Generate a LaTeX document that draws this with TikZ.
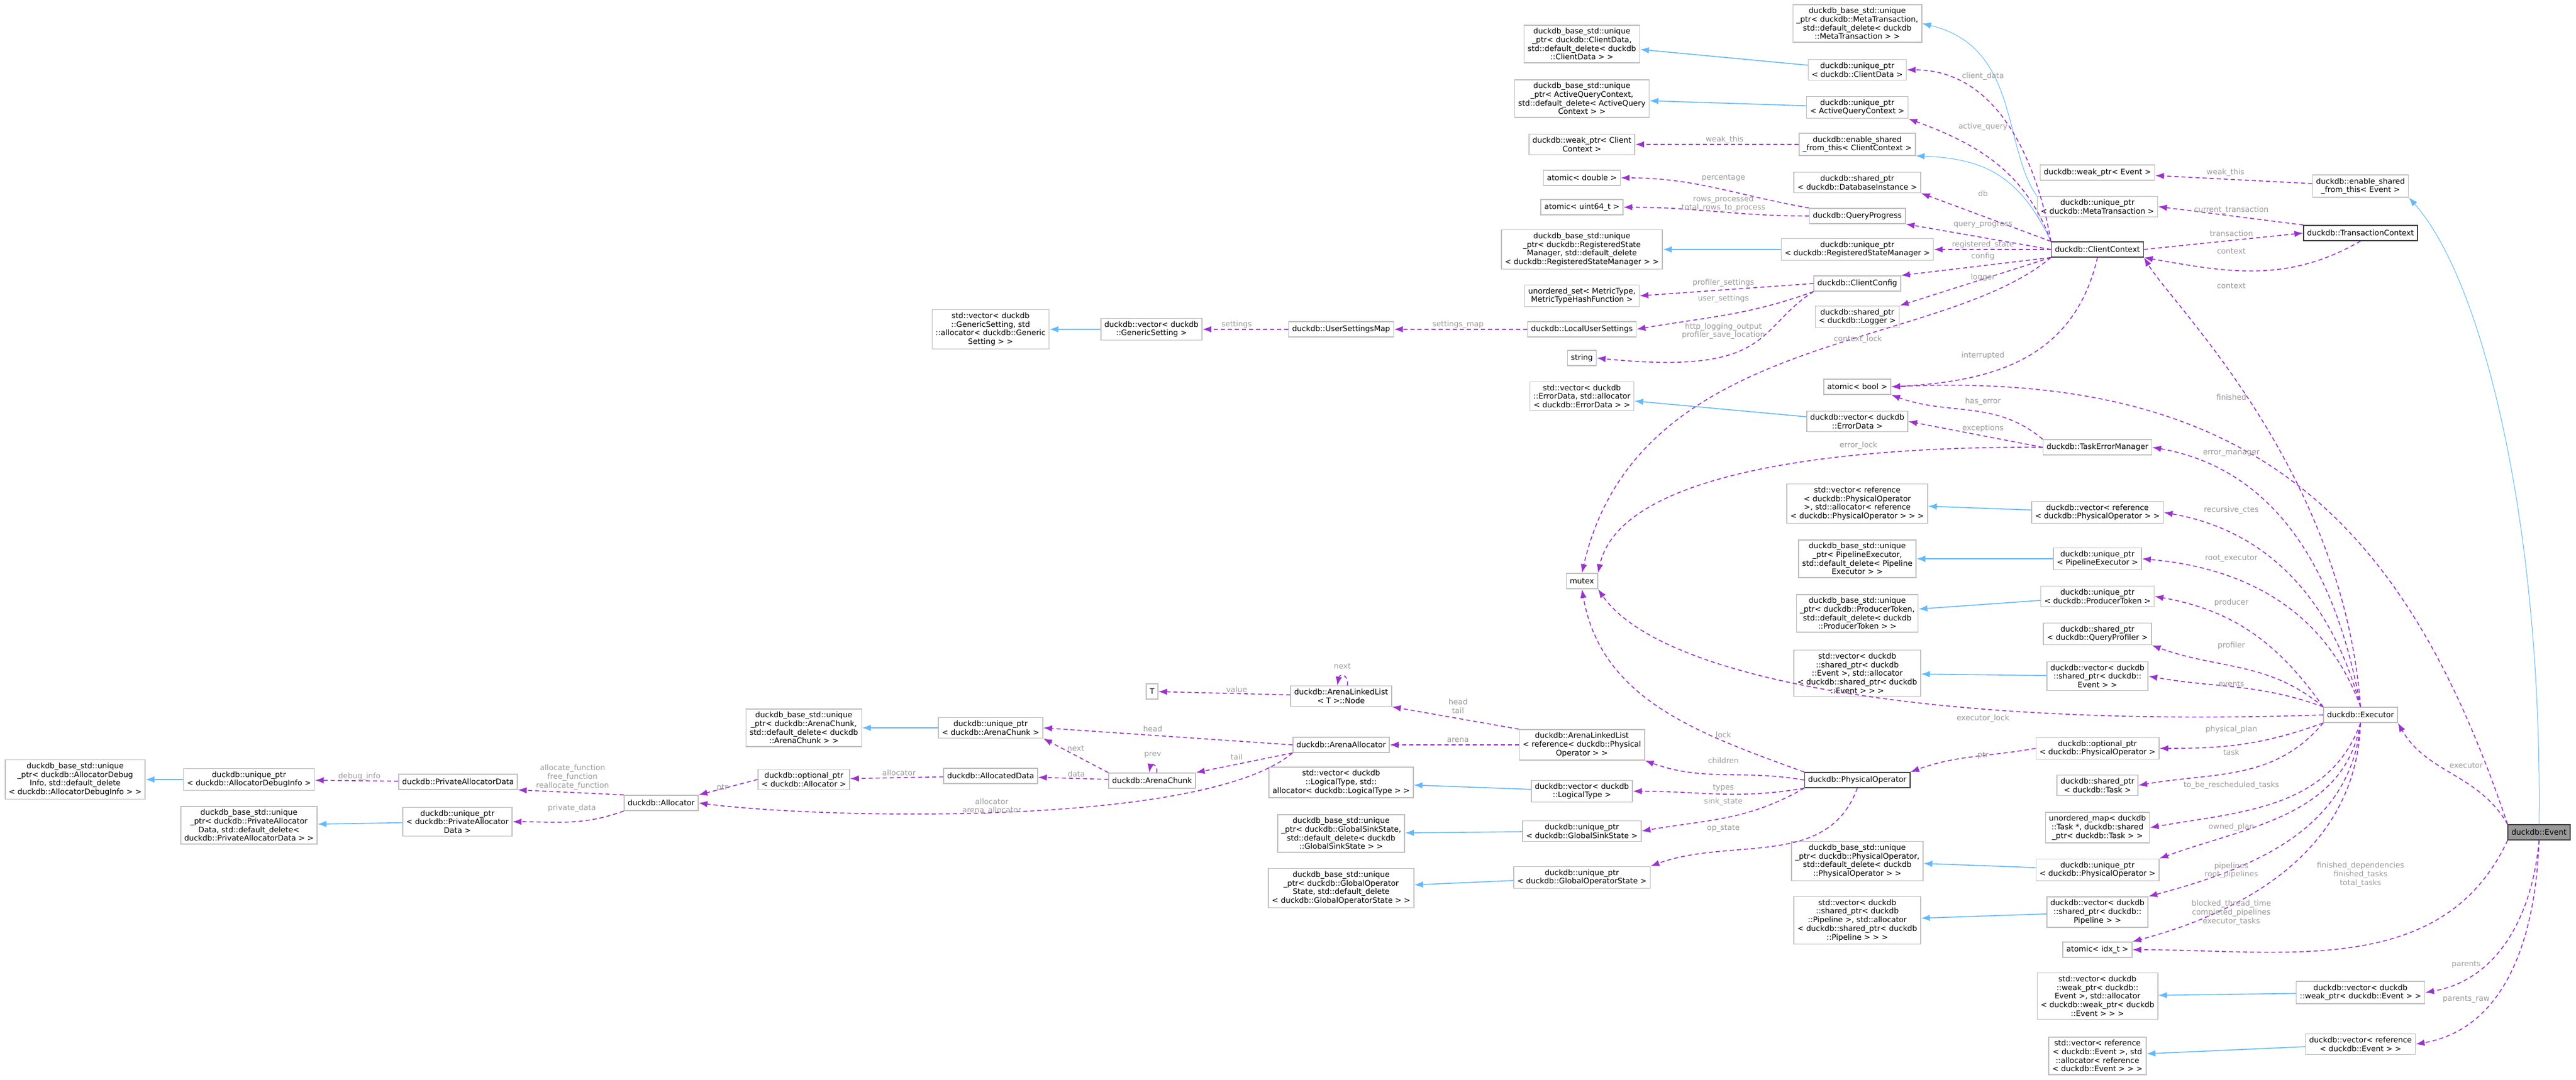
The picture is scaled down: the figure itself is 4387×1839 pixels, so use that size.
\documentclass[tikz,border=0pt]{standalone}
\usepackage{fontspec}
\setmainfont{DejaVu Sans}
\usetikzlibrary{arrows.meta}
\definecolor{memcol}{HTML}{9A32CD}
\definecolor{inhcol}{HTML}{63B8FF}
\definecolor{boxline}{HTML}{BFBFBF}
\definecolor{lblcol}{HTML}{9A9A9A}
\begin{document}
\begin{tikzpicture}[x=1pt, y=-1pt,
    cls/.style={rectangle, draw=boxline, line width=1.5pt, fill=white, align=center,
        font=\fontsize{13}{14.7}\selectfont, inner xsep=6pt, inner ysep=5pt, minimum height=26pt},
    main/.style={cls, draw=black!75},
    mem/.style={draw=memcol, line width=1.6pt, dash pattern=on 7pt off 5pt,
        -{Latex[length=15pt,width=11pt]}},
    inh/.style={draw=inhcol, line width=1.6pt, -{Latex[length=15pt,width=11pt]}},
    lbl/.style={text=lblcol, align=center, font=\fontsize{13}{14.7}\selectfont, inner sep=0pt}
]
    \useasboundingbox (0,0) rectangle (4387,1839);

    % allocator part
    \node[cls] (baseAllocDbg) at (128,1328) {duckdb\_base\_std::unique\\\_ptr< duckdb::AllocatorDebug\\Info, std::default\_delete\\< duckdb::AllocatorDebugInfo > >};
    \node[cls] (uptrAllocDbg) at (424,1328) {duckdb::unique\_ptr\\< duckdb::AllocatorDebugInfo >};
    \node[cls] (privData) at (780,1332) {duckdb::PrivateAllocatorData};
    \node[cls] (basePrivData) at (424,1406) {duckdb\_base\_std::unique\\\_ptr< duckdb::PrivateAllocator\\Data, std::default\_delete<\\duckdb::PrivateAllocatorData > >};
    \node[cls] (uptrPrivData) at (779,1400) {duckdb::unique\_ptr\\< duckdb::PrivateAllocator\\Data >};
    \node[cls] (allocator) at (1126,1368) {duckdb::Allocator};
    \node[cls] (optPtrAlloc) at (1369,1328) {duckdb::optional\_ptr\\< duckdb::Allocator >};
    \node[cls] (baseArenaChunk) at (1369,1240) {duckdb\_base\_std::unique\\\_ptr< duckdb::ArenaChunk,\\std::default\_delete< duckdb\\::ArenaChunk > >};
    \node[cls] (uptrArenaChunk) at (1687,1240) {duckdb::unique\_ptr\\< duckdb::ArenaChunk >};
    \node[cls] (allocData) at (1687,1322) {duckdb::AllocatedData};
    \node[cls] (arenaChunk) at (1962,1330) {duckdb::ArenaChunk};
    \node[cls] (tNode) at (1962,1178) {T};
    \node[cls] (listNode) at (2284,1186) {duckdb::ArenaLinkedList\\< T >::Node};
    \node[cls] (arenaAlloc) at (2284,1269) {duckdb::ArenaAllocator};
    \node[cls] (arenaList) at (2694,1269) {duckdb::ArenaLinkedList\\< reference< duckdb::Physical\\Operator > >};

    % physical operator part
    \node[cls] (stdvecLogical) at (2284,1333) {std::vector< duckdb\\::LogicalType, std::\\allocator< duckdb::LogicalType > >};
    \node[cls] (vecLogical) at (2694,1348) {duckdb::vector< duckdb\\::LogicalType >};
    \node[cls] (baseSink) at (2284,1420) {duckdb\_base\_std::unique\\\_ptr< duckdb::GlobalSinkState,\\std::default\_delete< duckdb\\::GlobalSinkState > >};
    \node[cls] (uptrSink) at (2694,1416) {duckdb::unique\_ptr\\< duckdb::GlobalSinkState >};
    \node[cls] (baseOpState) at (2284,1513) {duckdb\_base\_std::unique\\\_ptr< duckdb::GlobalOperator\\State, std::default\_delete\\< duckdb::GlobalOperatorState > >};
    \node[cls] (uptrOpState) at (2694,1495) {duckdb::unique\_ptr\\< duckdb::GlobalOperatorState >};
    \node[main] (physOp) at (3163,1329) {duckdb::PhysicalOperator};

    % settings part
    \node[cls] (stdvecGeneric) at (1687,561) {std::vector< duckdb\\::GenericSetting, std\\::allocator< duckdb::Generic\\Setting > >};
    \node[cls] (vecGeneric) at (1961,561) {duckdb::vector< duckdb\\::GenericSetting >};
    \node[cls] (settingsMap) at (2284,561) {duckdb::UserSettingsMap};
    \node[cls] (localSettings) at (2694,561) {duckdb::LocalUserSettings};

    % column of member types
    \node[cls] (baseClientData) at (2694,75) {duckdb\_base\_std::unique\\\_ptr< duckdb::ClientData,\\std::default\_delete< duckdb\\::ClientData > >};
    \node[cls] (baseActive) at (2694,168) {duckdb\_base\_std::unique\\\_ptr< ActiveQueryContext,\\std::default\_delete< ActiveQuery\\Context > >};
    \node[cls] (weakPtrCC) at (2694,246) {duckdb::weak\_ptr< Client\\Context >};
    \node[cls] (atomicDouble) at (2694,303) {atomic< double >};
    \node[cls] (atomicU64) at (2694,353) {atomic< uint64\_t >};
    \node[cls] (baseRegState) at (2694,425) {duckdb\_base\_std::unique\\\_ptr< duckdb::RegisteredState\\Manager, std::default\_delete\\< duckdb::RegisteredStateManager > >};
    \node[cls] (metricSet) at (2694,504) {unordered\_set< MetricType,\\MetricTypeHashFunction >};
    \node[cls] (string) at (2694,610) {string};
    \node[cls] (stdvecError) at (2694,675) {std::vector< duckdb\\::ErrorData, std::allocator\\< duckdb::ErrorData > >};
    \node[cls] (mutex) at (2694,990) {mutex};

    % client context part
    \node[cls] (baseMeta) at (3163,40) {duckdb\_base\_std::unique\\\_ptr< duckdb::MetaTransaction,\\std::default\_delete< duckdb\\::MetaTransaction > >};
    \node[cls] (uptrClientData) at (3163,119) {duckdb::unique\_ptr\\< duckdb::ClientData >};
    \node[cls] (uptrActive) at (3163,183) {duckdb::unique\_ptr\\< ActiveQueryContext >};
    \node[cls] (sharedFromCC) at (3163,246) {duckdb::enable\_shared\\\_from\_this< ClientContext >};
    \node[cls] (sharedDb) at (3163,311) {duckdb::shared\_ptr\\< duckdb::DatabaseInstance >};
    \node[cls] (queryProgress) at (3163,368) {duckdb::QueryProgress};
    \node[cls] (uptrRegState) at (3163,425) {duckdb::unique\_ptr\\< duckdb::RegisteredStateManager >};
    \node[cls] (clientConfig) at (3163,483) {duckdb::ClientConfig};
    \node[cls] (sharedLogger) at (3163,540) {duckdb::shared\_ptr\\< duckdb::Logger >};
    \node[cls] (atomicBool) at (3163,659) {atomic< bool >};
    \node[cls] (vecError) at (3163,718) {duckdb::vector< duckdb\\::ErrorData >};
    \node[main] (clientCtx) at (3572,425) {duckdb::ClientContext};
    \node[cls] (weakPtrEvent) at (3572,294) {duckdb::weak\_ptr< Event >};
    \node[cls] (uptrMeta) at (3572,352) {duckdb::unique\_ptr\\< duckdb::MetaTransaction >};
    \node[cls] (sharedFromEvent) at (4020,317) {duckdb::enable\_shared\\\_from\_this< Event >};
    \node[main] (transCtx) at (4020,397) {duckdb::TransactionContext};

    % executor part
    \node[cls] (taskErr) at (3572,762) {duckdb::TaskErrorManager};
    \node[cls] (stdvecRefOp) at (3163,858) {std::vector< reference\\< duckdb::PhysicalOperator\\ >, std::allocator< reference\\< duckdb::PhysicalOperator > > >};
    \node[cls] (vecRefOp) at (3572,873) {duckdb::vector< reference\\< duckdb::PhysicalOperator > >};
    \node[cls] (basePipeExec) at (3163,952) {duckdb\_base\_std::unique\\\_ptr< PipelineExecutor,\\std::default\_delete< Pipeline\\Executor > >};
    \node[cls] (uptrPipeExec) at (3572,952) {duckdb::unique\_ptr\\< PipelineExecutor >};
    \node[cls] (baseProducer) at (3163,1045) {duckdb\_base\_std::unique\\\_ptr< duckdb::ProducerToken,\\std::default\_delete< duckdb\\::ProducerToken > >};
    \node[cls] (uptrProducer) at (3572,1016) {duckdb::unique\_ptr\\< duckdb::ProducerToken >};
    \node[cls] (sharedProfiler) at (3572,1080) {duckdb::shared\_ptr\\< duckdb::QueryProfiler >};
    \node[cls] (stdvecEvents) at (3163,1147) {std::vector< duckdb\\::shared\_ptr< duckdb\\::Event >, std::allocator\\< duckdb::shared\_ptr< duckdb\\::Event > > >};
    \node[cls] (vecEvents) at (3572,1152) {duckdb::vector< duckdb\\::shared\_ptr< duckdb::\\Event > >};
    \node[cls] (executor) at (4020,1218) {duckdb::Executor};
    \node[cls] (optPtrOp) at (3572,1275) {duckdb::optional\_ptr\\< duckdb::PhysicalOperator >};
    \node[cls] (sharedTask) at (3572,1338) {duckdb::shared\_ptr\\< duckdb::Task >};
    \node[cls] (taskMap) at (3572,1410) {unordered\_map< duckdb\\::Task *, duckdb::shared\\\_ptr< duckdb::Task > >};
    \node[cls] (basePhysOp) at (3163,1467) {duckdb\_base\_std::unique\\\_ptr< duckdb::PhysicalOperator,\\std::default\_delete< duckdb\\::PhysicalOperator > >};
    \node[cls] (uptrPhysOp) at (3572,1482) {duckdb::unique\_ptr\\< duckdb::PhysicalOperator >};
    \node[cls] (stdvecPipelines) at (3163,1568) {std::vector< duckdb\\::shared\_ptr< duckdb\\::Pipeline >, std::allocator\\< duckdb::shared\_ptr< duckdb\\::Pipeline > > >};
    \node[cls] (vecPipelines) at (3572,1554) {duckdb::vector< duckdb\\::shared\_ptr< duckdb::\\Pipeline > >};
    \node[cls] (atomicIdx) at (3572,1618) {atomic< idx\_t >};
    \node[cls] (stdvecWeakEvent) at (3572,1697) {std::vector< duckdb\\::weak\_ptr< duckdb::\\Event >, std::allocator\\< duckdb::weak\_ptr< duckdb\\::Event > > >};
    \node[cls] (vecWeakEvent) at (4020,1691) {duckdb::vector< duckdb\\::weak\_ptr< duckdb::Event > >};
    \node[cls] (stdvecRefEvent) at (3572,1799) {std::vector< reference\\< duckdb::Event >, std\\::allocator< reference\\< duckdb::Event > > >};
    \node[cls] (vecRefEvent) at (4020,1779) {duckdb::vector< reference\\< duckdb::Event > >};
    \node[main, fill=black!40] (event) at (4324,1418) {duckdb::Event};

    % inheritance
    \draw[inh] (uptrAllocDbg) -- (baseAllocDbg);
    \draw[inh] (uptrPrivData) -- (basePrivData);
    \draw[inh] (uptrArenaChunk) -- (baseArenaChunk);
    \draw[inh] (vecGeneric) -- (stdvecGeneric);
    \draw[inh] (vecLogical) -- (stdvecLogical);
    \draw[inh] (uptrSink) -- (baseSink);
    \draw[inh] (uptrOpState) -- (baseOpState);
    \draw[inh] (uptrClientData) -- (baseClientData);
    \draw[inh] (uptrActive) -- (baseActive);
    \draw[inh] (uptrRegState) -- (baseRegState);
    \draw[inh] (vecError) -- (stdvecError);
    \draw[inh] (vecRefOp) -- (stdvecRefOp);
    \draw[inh] (uptrPipeExec) -- (basePipeExec);
    \draw[inh] (uptrProducer) -- (baseProducer);
    \draw[inh] (vecEvents) -- (stdvecEvents);
    \draw[inh] (uptrPhysOp) -- (basePhysOp);
    \draw[inh] (vecPipelines) -- (stdvecPipelines);
    \draw[inh] (vecWeakEvent) -- (stdvecWeakEvent);
    \draw[inh] (vecRefEvent) -- (stdvecRefEvent);
    \draw[inh, line width=1pt] (uptrMeta.north west) .. controls (3410,250) and (3440,80) .. (baseMeta.east);
    \draw[inh, line width=1pt] (clientCtx.north west) .. controls (3440,300) and (3380,270) .. (sharedFromCC.south east);
    \draw[inh, line width=1pt] (event.north) .. controls (4330,900) and (4230,480) .. (sharedFromEvent.south east);

    % allocator members
    \draw[mem] (privData) -- (uptrAllocDbg);
    \draw[mem] (allocator.north west) -- (privData.south east);
    \draw[mem] (allocator.south west) to[out=200,in=0] (uptrPrivData.east);
    \draw[mem] (optPtrAlloc.west) -- (allocator.north east);
    \draw[mem] (arenaAlloc.south west) .. controls (2050,1410) and (1400,1395) .. (allocator.east);
    \draw[mem] (allocData) -- (optPtrAlloc);
    \draw[mem] (arenaChunk) -- (allocData);
    \draw[mem] (arenaChunk.north west) -- (uptrArenaChunk.south east);
    \draw[mem] (arenaChunk.60) to[out=80,in=80,looseness=3] (arenaChunk.110);
    \draw[mem] (arenaAlloc.west) -- (uptrArenaChunk.east);
    \draw[mem] (arenaAlloc.south west) -- (arenaChunk.north east);
    \draw[mem] (listNode) -- (tNode);
    \draw[mem] (listNode.60) to[out=80,in=80,looseness=3] (listNode.110);
    \draw[mem] (arenaList.north west) -- (listNode.south east);
    \draw[mem] (arenaList) -- (arenaAlloc);

    % physical operator members
    \draw[mem] (physOp.west) to[out=170,in=-20] (arenaList.south east);
    \draw[mem] (physOp.south west) to[out=190,in=0] (vecLogical.east);
    \draw[mem] (physOp.south west) to[out=210,in=10] (uptrSink.east);
    \draw[mem] (physOp.south) to[out=250,in=20] (uptrOpState.north east);
    \draw[mem] (physOp.north west) to[out=160,in=-80] (mutex.south);
    \draw[mem] (optPtrOp.west) to[out=190,in=20] (physOp.north east);

    % settings members
    \draw[mem] (settingsMap) -- (vecGeneric);
    \draw[mem] (localSettings) -- (settingsMap);
    \draw[mem] (clientConfig.west) -- (metricSet.east);
    \draw[mem] (clientConfig.south west) to[out=200,in=10] (localSettings.east);
    \draw[mem] (clientConfig.south west) .. controls (2990,560) and (3020,640) .. (string.east);
    \draw[mem] (queryProgress.north west) to[out=170,in=0] (atomicDouble.east);
    \draw[mem] (queryProgress.west) to[out=180,in=0] (atomicU64.east);
    \draw[mem] (sharedFromCC) -- (weakPtrCC);

    % client context members
    \draw[mem] (clientCtx.north west) to[out=100,in=0] (uptrClientData.east);
    \draw[mem] (clientCtx.north west) to[out=110,in=-20] (uptrActive.south east);
    \draw[mem] (clientCtx.north west) -- (sharedDb.south east);
    \draw[mem] (clientCtx.west) -- (queryProgress.south east);
    \draw[mem] (clientCtx) -- (uptrRegState);
    \draw[mem] (clientCtx.south west) -- (clientConfig.north east);
    \draw[mem] (clientCtx.south west) -- (sharedLogger.north east);
    \draw[mem] (clientCtx.south west) .. controls (3300,600) and (2790,560) .. (mutex.north);
    \draw[mem] (clientCtx.south) .. controls (3530,620) and (3380,650) .. (atomicBool.east);
    \draw[mem] (sharedFromEvent) -- (weakPtrEvent);
    \draw[mem] (transCtx.north west) -- (uptrMeta.east);
    \draw[mem] (clientCtx.east) -- (transCtx.west);
    \draw[mem] (transCtx.south) to[out=-150,in=-10] (clientCtx.south east);

    % task error manager members
    \draw[mem] (taskErr.west) -- (vecError.east);
    \draw[mem] (taskErr.west) .. controls (3150,760) and (2760,800) .. (mutex.north east);
    \draw[mem] (taskErr.north west) to[out=140,in=-20] (atomicBool.south east);

    % executor members
    \draw[mem] (executor.north) .. controls (3990,800) and (3700,520) .. (clientCtx.south east);
    \draw[mem] (executor.north) to[out=100,in=-10] (taskErr.east);
    \draw[mem] (executor.north) to[out=105,in=-10] (vecRefOp.east);
    \draw[mem] (executor.north) to[out=110,in=-5] (uptrPipeExec.east);
    \draw[mem] (executor.north west) to[out=125,in=-10] (uptrProducer.east);
    \draw[mem] (executor.north west) to[out=140,in=-20] (sharedProfiler.south east);
    \draw[mem] (executor.north west) to[out=160,in=-10] (vecEvents.east);
    \draw[mem] (executor.west) .. controls (3300,1240) and (2830,1160) .. (mutex.south east);
    \draw[mem] (executor.south west) to[out=200,in=0] (optPtrOp.east);
    \draw[mem] (executor.south west) to[out=230,in=10] (sharedTask.east);
    \draw[mem] (executor.south) to[out=250,in=10] (taskMap.east);
    \draw[mem] (executor.south) to[out=260,in=20] (uptrPhysOp.north east);
    \draw[mem] (executor.south) to[out=265,in=15] (vecPipelines.north east);
    \draw[mem] (executor.south) to[out=268,in=15] (atomicIdx.north east);

    % event members
    \draw[mem] (event.north west) .. controls (4100,900) and (3850,630) .. (atomicBool.east);
    \draw[mem] (event.north west) to[out=120,in=-60] (executor.south east);
    \draw[mem] (event.south west) to[out=-115,in=0] (atomicIdx.east);
    \draw[mem] (event.south) to[out=-95,in=10] (vecWeakEvent.east);
    \draw[mem] (event.south) to[out=-92,in=10] (vecRefEvent.east);

    % labels
    \node[lbl] (lDebugInfo) at (612,1323) {debug\_info};
    \node[lbl] (lAllocFn) at (975,1324) {allocate\_function\\free\_function\\reallocate\_function};
    \node[lbl] (lPtrA) at (1230,1342) {ptr};
    \node[lbl] (lPrivData) at (974,1377) {private\_data};
    \node[lbl] (lAllocatorA) at (1531,1317) {allocator};
    \node[lbl] (lAllocatorB) at (1689,1374) {allocator\\arena\_allocator};
    \node[lbl] (lNextA) at (2286,1135) {next};
    \node[lbl] (lValue) at (2106,1175) {value};
    \node[lbl] (lHeadTail) at (2483,1203) {head\\tail};
    \node[lbl] (lHead) at (1963,1242) {head};
    \node[lbl] (lNextB) at (1832,1275) {next};
    \node[lbl] (lPrev) at (1963,1286) {prev};
    \node[lbl] (lTail) at (2106,1290) {tail};
    \node[lbl] (lData) at (1833,1319) {data};
    \node[lbl] (lArena) at (2483,1261) {arena};
    \node[lbl] (lSettings) at (2106,553) {settings};
    \node[lbl] (lSettingsMap) at (2483,553) {settings\_map};
    \node[lbl] (lClientData) at (3377,130) {client\_data};
    \node[lbl] (lActive) at (3377,216) {active\_query};
    \node[lbl] (lWeakCC) at (2937,238) {weak\_this};
    \node[lbl] (lPercent) at (2935,303) {percentage};
    \node[lbl] (lRows) at (2935,347) {rows\_processed\\total\_rows\_to\_process};
    \node[lbl] (lDb) at (3377,330) {db};
    \node[lbl] (lProgress) at (3377,383) {query\_progress};
    \node[lbl] (lRegState) at (3377,417) {registered\_state};
    \node[lbl] (lConfig) at (3377,437) {config};
    \node[lbl] (lLogger) at (3377,473) {logger};
    \node[lbl] (lProfSet) at (2935,482) {profiler\_settings};
    \node[lbl] (lUserSet) at (2935,509) {user\_settings};
    \node[lbl] (lHttp) at (2935,564) {http\_logging\_output\\profiler\_save\_location};
    \node[lbl] (lCtxLock) at (3164,578) {context\_lock};
    \node[lbl] (lInterrupted) at (3377,606) {interrupted};
    \node[lbl] (lHasError) at (3377,684) {has\_error};
    \node[lbl] (lWeakEv) at (3790,294) {weak\_this};
    \node[lbl] (lCurTrans) at (3800,358) {current\_transaction};
    \node[lbl] (lTrans) at (3800,398) {transaction};
    \node[lbl] (lCtxA) at (3800,428) {context};
    \node[lbl] (lCtxB) at (3800,487) {context};
    \node[lbl] (lFinished) at (3800,677) {finished};
    \node[lbl] (lExceptions) at (3377,730) {exceptions};
    \node[lbl] (lErrLock) at (3165,759) {error\_lock};
    \node[lbl] (lErrMgr) at (3800,772) {error\_manager};
    \node[lbl] (lCtes) at (3800,869) {recursive\_ctes};
    \node[lbl] (lRootExec) at (3800,951) {root\_executor};
    \node[lbl] (lProducer) at (3800,1027) {producer};
    \node[lbl] (lProfiler) at (3800,1100) {profiler};
    \node[lbl] (lEvents) at (3800,1165) {events};
    \node[lbl] (lExecLock) at (3377,1224) {executor\_lock};
    \node[lbl] (lPlan) at (3800,1243) {physical\_plan};
    \node[lbl] (lTask) at (3800,1282) {task};
    \node[lbl] (lPtrB) at (3377,1287) {ptr};
    \node[lbl] (lLock) at (2935,1252) {lock};
    \node[lbl] (lChildren) at (2935,1296) {children};
    \node[lbl] (lTypes) at (2935,1342) {types};
    \node[lbl] (lSink) at (2935,1366) {sink\_state};
    \node[lbl] (lOpState) at (2935,1411) {op\_state};
    \node[lbl] (lResched) at (3800,1338) {to\_be\_rescheduled\_tasks};
    \node[lbl] (lOwned) at (3800,1409) {owned\_plan};
    \node[lbl] (lPipelines) at (3800,1483) {pipelines\\root\_pipelines};
    \node[lbl] (lFinDeps) at (4020,1490) {finished\_dependencies\\finished\_tasks\\total\_tasks};
    \node[lbl] (lBlocked) at (3800,1555) {blocked\_thread\_time\\completed\_pipelines\\executor\_tasks};
    \node[lbl] (lExecutor) at (4200,1304) {executor};
    \node[lbl] (lParents) at (4200,1643) {parents};
    \node[lbl] (lParentsRaw) at (4200,1702) {parents\_raw};
\end{tikzpicture}
\end{document}
